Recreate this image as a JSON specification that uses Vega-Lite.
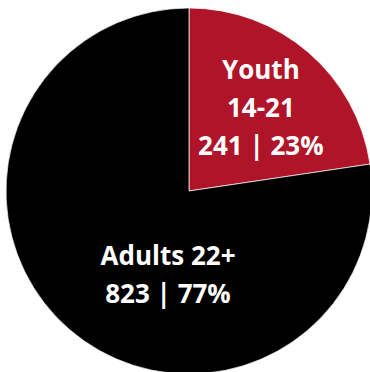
{
  "$schema": "https://vega.github.io/schema/vega-lite/v6.json",
  "width": 370,
  "height": 372,
  "padding": {"left": 4, "top": 5, "right": 0, "bottom": 0},
  "background": "white",
  "view": {"stroke": null},
  "data": {"values": [
    {"group": "Youth 14-21", "value": 241, "label": "Youth\n14-21\n241 | 23%"},
    {"group": "Adults 22+", "value": 823, "label": "Adults 22+\n823 | 77%"}
  ]},
  "layer": [
    {
      "mark": {"type": "arc", "radius": 183, "stroke": "white", "strokeWidth": 0.7},
      "encoding": {
        "theta": {"field": "value", "type": "quantitative", "stack": true},
        "order": {"field": "group", "sort": "descending"},
        "color": {"field": "group", "type": "nominal", "legend": null,
          "scale": {"domain": ["Youth 14-21", "Adults 22+"], "range": ["#AF1429", "#000000"]}}
      }
    },
    {
      "transform": [{"filter": "datum.group === 'Youth 14-21'"}],
      "mark": {"type": "text", "radius": 110, "dy": -37, "color": "white", "font": "Open Sans", "fontWeight": "bold", "fontSize": 26, "lineBreak": "\n", "lineHeight": 38, "baseline": "middle", "align": "center"},
      "encoding": {
        "theta": {"field": "value", "type": "quantitative", "stack": true},
        "text": {"field": "label"}
      }
    },
    {
      "transform": [{"filter": "datum.group === 'Adults 22+'"}],
      "mark": {"type": "text", "color": "white", "font": "Open Sans", "fontWeight": "bold", "fontSize": 26, "lineBreak": "\n", "lineHeight": 38, "baseline": "middle", "align": "center", "dx": -21, "dy": 66},
      "encoding": {
        "text": {"field": "label"}
      }
    }
  ]
}
